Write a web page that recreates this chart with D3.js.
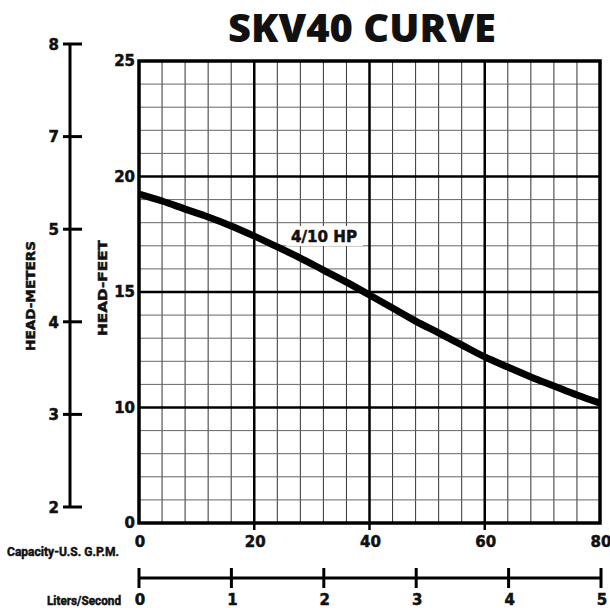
<!DOCTYPE html>
<html>
<head>
<meta charset="utf-8">
<script src="https://cdn.jsdelivr.net/npm/d3@7"></script>
<style>
  body { margin: 0; background: #fff; }
  text { font-family: "DejaVu Sans", sans-serif; font-weight: 700; fill: #111; stroke: #111; stroke-width: 0.5; }
  .title { font-family: "Open Sans", "DejaVu Sans", sans-serif; font-weight: 800; stroke: none; }
  .narrow { font-family: "Liberation Sans Narrow", "Roboto", sans-serif; font-weight: 700; }
</style>
</head>
<body>
<div id="chart"></div>
<script>
'use strict';
// Curve data (GPM -> head in feet)
const gpm = [0, 4, 8, 12, 16, 20, 24, 28, 32, 36, 40, 44, 48, 52, 56, 60, 64, 68, 72, 76, 80]
const headFt = [19.24, 18.94, 18.59, 18.25, 17.86, 17.42, 16.95, 16.47, 15.95, 15.43, 14.87, 14.31, 13.74, 13.23, 12.71, 12.19, 11.75, 11.32, 10.93, 10.54, 10.19]

// Axis ticks
const gpmTicks = [0, 20, 40, 60, 80]
const feetTicks = [5, 10, 15, 20, 25]
const feetLabels = ['0', '10', '15', '20', '25']
const meterLabels = ['8', '7', '5', '4', '3', '2']
const lpsTicks = [0, 1, 2, 3, 4, 5]

const W = 610, H = 608
const plot = { left: 139, right: 600, top: 61, bottom: 523 }

const x = d3.scaleLinear().domain([0, 80]).range([plot.left, plot.right])
const y = d3.scaleLinear().domain([5, 25]).range([plot.bottom, plot.top])
const yM = d3.scalePoint().domain(meterLabels).range([44, 507])
const xL = d3.scaleLinear().domain([0, 5]).range([plot.left, plot.right + 1])

const svg = d3.select('#chart').append('svg')
    .attr('width', W)
    .attr('height', H)

// Title
svg.append('text')
    .attr('class', 'title')
    .attr('x', 362)
    .attr('y', 42)
    .attr('text-anchor', 'middle')
    .attr('textLength', 268)
    .attr('lengthAdjust', 'spacingAndGlyphs')
    .style('font-size', '38px')
    .text('SKV40 CURVE')

// Minor grid
const grid = svg.append('g')
d3.range(0, 81, 4).forEach(v => {
    grid.append('line')
        .attr('x1', x(v)).attr('x2', x(v))
        .attr('y1', plot.top).attr('y2', plot.bottom)
        .attr('stroke', '#333').attr('stroke-width', 1)
})
d3.range(5, 25.1, 1).forEach(v => {
    grid.append('line')
        .attr('x1', plot.left).attr('x2', plot.right)
        .attr('y1', y(v)).attr('y2', y(v))
        .attr('stroke', '#666').attr('stroke-width', 1)
})

// Major grid
gpmTicks.slice(1, -1).forEach(v => {
    grid.append('line')
        .attr('x1', x(v)).attr('x2', x(v))
        .attr('y1', plot.top).attr('y2', plot.bottom + 7)
        .attr('stroke', '#000').attr('stroke-width', 2.5)
})
feetTicks.slice(1, -1).forEach(v => {
    grid.append('line')
        .attr('x1', plot.left).attr('x2', plot.right)
        .attr('y1', y(v)).attr('y2', y(v))
        .attr('stroke', '#000').attr('stroke-width', 2.5)
})

// Border
svg.append('rect')
    .attr('x', plot.left).attr('y', plot.top)
    .attr('width', plot.right - plot.left)
    .attr('height', plot.bottom - plot.top)
    .attr('fill', 'none')
    .attr('stroke', '#000')
    .attr('stroke-width', 3.5)

// White box behind the curve label
svg.append('rect')
    .attr('x', x(25.5)).attr('y', y(17.86))
    .attr('width', 77).attr('height', 20)
    .attr('fill', '#fff')

// Pump curve
const line = d3.line()
    .x((d, i) => x(gpm[i]))
    .y(d => y(d))
    .curve(d3.curveMonotoneX)
svg.append('path').datum(headFt)
    .attr('d', line)
    .attr('fill', 'none')
    .attr('stroke', '#000')
    .attr('stroke-width', 7)

svg.append('text')
    .attr('x', x(32.1))
    .attr('y', y(17.16))
    .attr('text-anchor', 'middle')
    .attr('textLength', 66)
    .attr('lengthAdjust', 'spacingAndGlyphs')
    .style('font-size', '15px')
    .text('4/10 HP')

// Feet labels
svg.append('g').selectAll('text').data(feetTicks).join('text')
    .attr('x', plot.left - 4)
    .attr('y', d => y(d))
    .attr('dy', '0.36em')
    .attr('text-anchor', 'end')
    .style('font-size', '15px')
    .text((d, i) => feetLabels[i])

// GPM labels
svg.append('g').selectAll('text').data(gpmTicks).join('text')
    .attr('x', d => x(d) + 1)
    .attr('y', 547)
    .attr('text-anchor', 'middle')
    .style('font-size', '15px')
    .text(d => d)

// Meters axis
const mAxis = svg.append('g')
mAxis.append('line')
    .attr('x1', 70).attr('x2', 70)
    .attr('y1', yM('8')).attr('y2', yM('2'))
    .attr('stroke', '#000').attr('stroke-width', 3)
mAxis.selectAll('line.tick').data(meterLabels).join('line')
    .attr('class', 'tick')
    .attr('x1', 63).attr('x2', 82)
    .attr('y1', d => yM(d)).attr('y2', d => yM(d))
    .attr('stroke', '#000').attr('stroke-width', 3)
mAxis.selectAll('text').data(meterLabels).join('text')
    .attr('x', 59)
    .attr('y', d => yM(d))
    .attr('dy', '0.38em')
    .attr('text-anchor', 'end')
    .style('font-size', '15px')
    .text(d => d)

// Liters/second axis
const lAxis = svg.append('g')
lAxis.append('line')
    .attr('x1', xL(0)).attr('x2', xL(5))
    .attr('y1', 578).attr('y2', 578)
    .attr('stroke', '#000').attr('stroke-width', 3)
lAxis.selectAll('line.tick').data(lpsTicks).join('line')
    .attr('class', 'tick')
    .attr('x1', d => xL(d)).attr('x2', d => xL(d))
    .attr('y1', 568).attr('y2', 588)
    .attr('stroke', '#000').attr('stroke-width', 3)
lAxis.selectAll('text').data(lpsTicks).join('text')
    .attr('x', d => xL(d) + 1)
    .attr('y', 605)
    .attr('text-anchor', 'middle')
    .style('font-size', '15px')
    .text(d => d)

// Axis titles
svg.append('text')
    .attr('class', 'narrow')
    .attr('x', 7).attr('y', 556)
    .attr('textLength', 112)
    .attr('lengthAdjust', 'spacingAndGlyphs')
    .style('font-size', '13px')
    .text('Capacity-U.S. G.P.M.')
svg.append('text')
    .attr('class', 'narrow')
    .attr('x', 47).attr('y', 605)
    .attr('textLength', 74)
    .attr('lengthAdjust', 'spacingAndGlyphs')
    .style('font-size', '13px')
    .text('Liters/Second')
svg.append('text')
    .attr('transform', 'translate(35,296) rotate(-90)')
    .attr('text-anchor', 'middle')
    .attr('textLength', 110)
    .attr('lengthAdjust', 'spacingAndGlyphs')
    .style('font-size', '13px')
    .text('HEAD-METERS')
svg.append('text')
    .attr('transform', 'translate(107,288) rotate(-90)')
    .attr('text-anchor', 'middle')
    .attr('textLength', 96)
    .attr('lengthAdjust', 'spacingAndGlyphs')
    .style('font-size', '13px')
    .text('HEAD-FEET')
</script>
</body>
</html>
